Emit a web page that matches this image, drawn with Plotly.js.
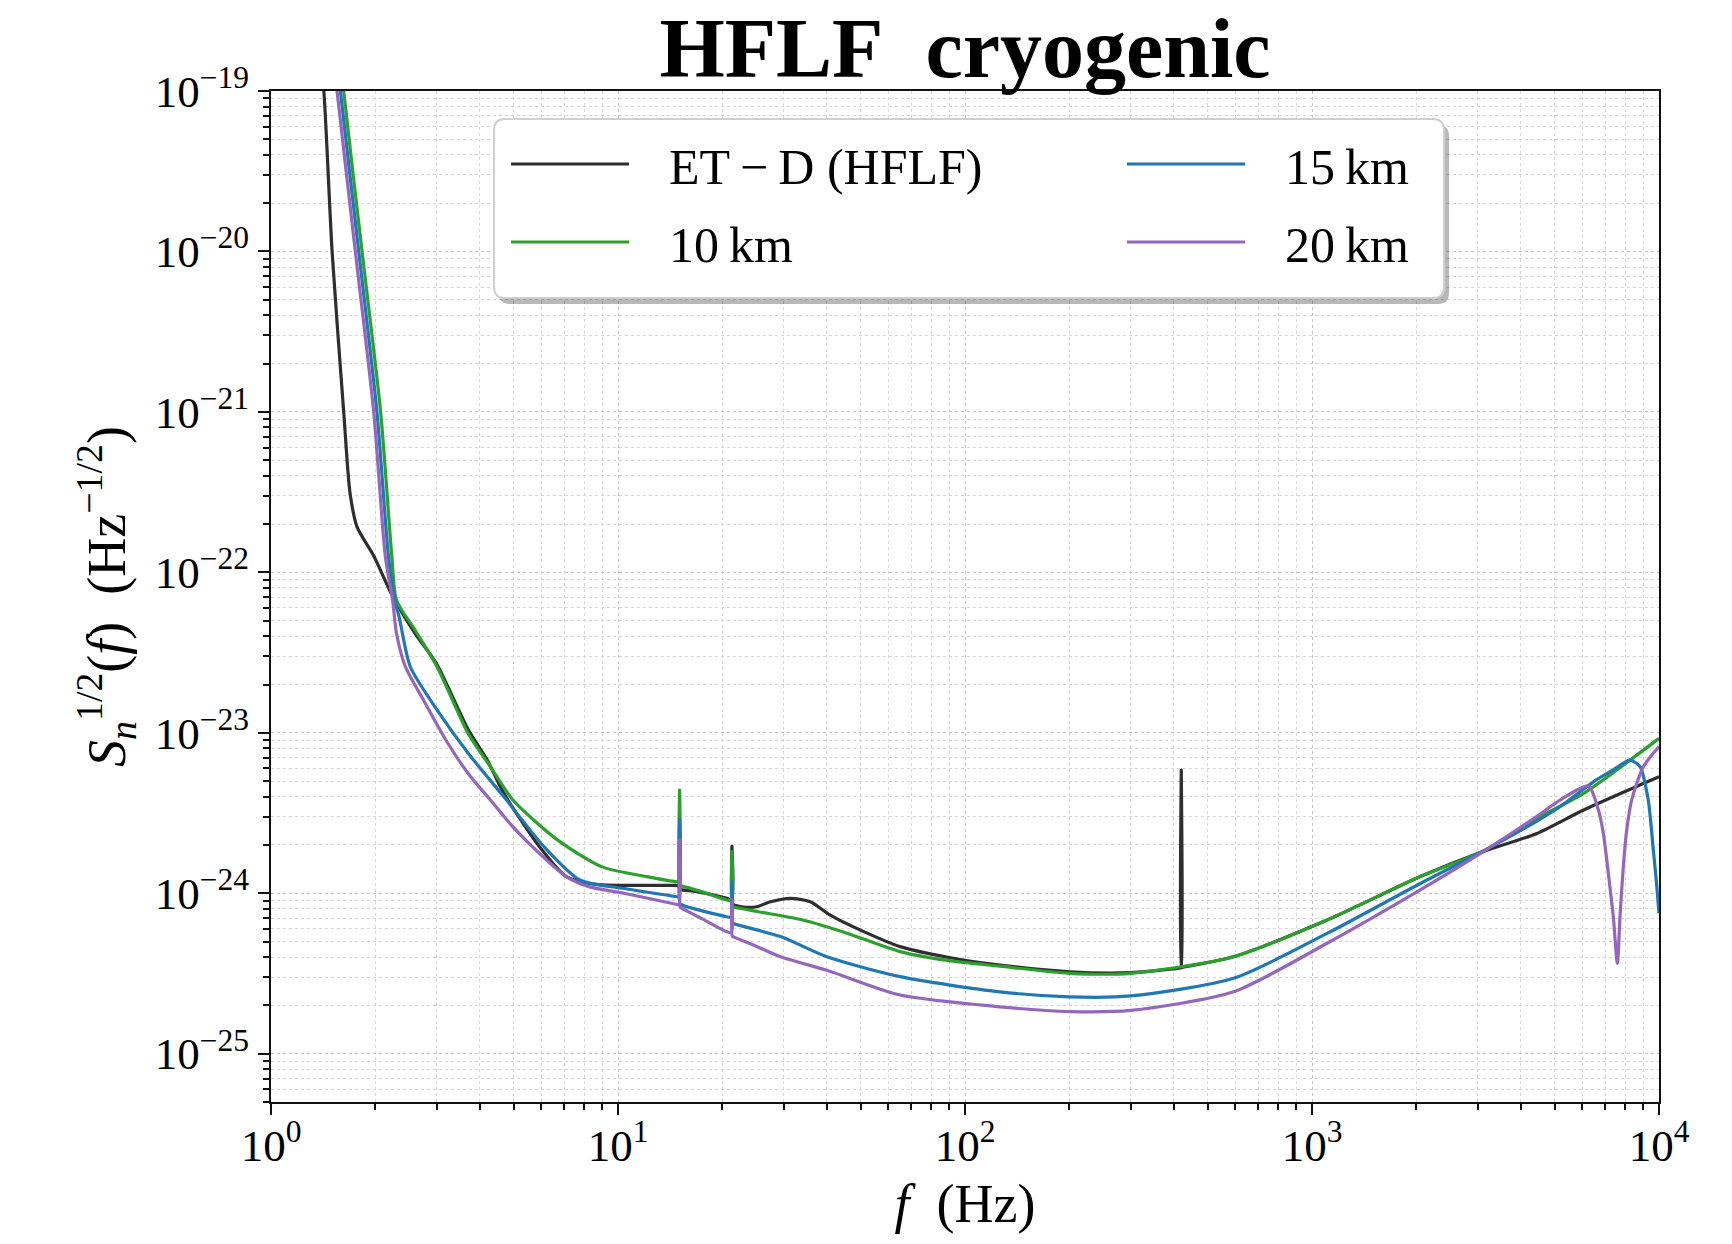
<!DOCTYPE html>
<html>
<head>
<meta charset="utf-8">
<script src="https://cdn.plot.ly/plotly-3.0.1.min.js"></script>
<style>
  html, body { margin: 0; padding: 0; background: #fff; }
  #chart { width: 1732px; height: 1244px; }
</style>
</head>
<body>
<div id="chart"></div>
<script>
// ---------------- DATA ----------------
// Frequencies in Hz, amplitude spectral density S_n^{1/2}(f) in Hz^-1/2

const etdFreq = [1.36, 1.42, 1.50, 1.62, 1.69, 1.77, 1.98, 2.24, 2.60, 3.00, 3.70, 4.20, 4.69, 5.94, 7.10, 8.23, 10.0, 12.1, 14.7, 15.0, 15.05, 15.1, 15.3, 17.0, 20.6, 21.25, 21.3, 21.35, 21.6, 23.0, 25.1, 27.5, 31.4, 35.8, 40.9, 50, 65, 90, 126, 200, 300, 405, 418, 419.6, 420, 420.4, 422, 594, 1105, 2051, 3067, 4450, 6064, 10000];
const etdASD  = [2.5e-19, 1.0e-19, 1.0e-20, 1.0e-21, 3.1e-22, 1.92e-22, 1.26e-22, 7.1e-23, 4.17e-23, 2.69e-23, 1.05e-23, 6.76e-24, 4.19e-24, 1.95e-24, 1.27e-24, 1.15e-24, 1.12e-24, 1.12e-24, 1.12e-24, 1.12e-24, 1.78e-24, 1.06e-24, 1.05e-24, 1.02e-24, 9.3e-25, 9.1e-25, 1.97e-24, 8.55e-25, 8.45e-25, 8.2e-25, 8.24e-25, 8.85e-25, 9.3e-25, 8.85e-25, 7.31e-25, 5.89e-25, 4.65e-25, 3.98e-25, 3.57e-25, 3.24e-25, 3.2e-25, 3.39e-25, 3.42e-25, 3.43e-25, 5.86e-24, 3.44e-25, 3.45e-25, 4.02e-25, 6.81e-25, 1.27e-24, 1.80e-24, 2.36e-24, 3.30e-24, 5.32e-24];

const km10Freq = [1.56, 1.62, 1.83, 2.07, 2.23, 2.30, 2.60, 3.01, 3.70, 4.29, 4.98, 6.69, 9.0, 12.1, 14.8, 15.0, 15.05, 15.1, 15.3, 17.5, 20.6, 21.25, 21.3, 21.35, 21.6, 25.4, 34.1, 45.9, 65, 90, 126, 200, 300, 594, 1105, 2051, 3067, 4450, 6064, 10000];
const km10ASD  = [2.5e-19, 1.0e-19, 1.0e-20, 1.0e-21, 1.25e-22, 6.71e-23, 4.37e-23, 2.58e-23, 9.91e-24, 6.14e-24, 3.81e-24, 2.15e-24, 1.46e-24, 1.27e-24, 1.18e-24, 1.18e-24, 4.40e-24, 1.12e-24, 1.11e-24, 1.02e-24, 9.08e-25, 9.0e-25, 1.82e-24, 8.3e-25, 8.2e-25, 7.67e-25, 6.81e-25, 5.62e-25, 4.33e-25, 3.80e-25, 3.51e-25, 3.17e-25, 3.17e-25, 4.02e-25, 6.81e-25, 1.27e-24, 1.80e-24, 2.93e-24, 4.19e-24, 9.23e-24];

const km15Freq = [1.52, 1.585, 1.79, 2.02, 2.18, 2.27, 2.34, 2.52, 3.01, 3.70, 4.69, 6.12, 7.76, 10.4, 14.8, 15.0, 15.05, 15.1, 15.3, 17.5, 20.6, 21.25, 21.3, 21.35, 21.6, 29.4, 40, 65, 126, 200, 300, 594, 1105, 2051, 3067, 4450, 5186, 6470, 7400, 8250, 8820, 9310, 9630, 9850, 10000];
const km15ASD  = [2.5e-19, 1.0e-19, 1.0e-20, 1.0e-21, 1.26e-22, 6.76e-23, 5.28e-23, 2.58e-23, 1.39e-23, 7.45e-24, 3.99e-24, 1.95e-24, 1.21e-24, 1.07e-24, 9.51e-25, 9.45e-25, 2.86e-24, 8.6e-25, 8.45e-25, 7.76e-25, 7.14e-25, 7.08e-25, 1.18e-24, 6.55e-25, 6.45e-25, 5.37e-25, 4.02e-25, 3.02e-25, 2.43e-25, 2.26e-25, 2.29e-25, 2.95e-25, 5.62e-25, 1.15e-24, 1.80e-24, 2.82e-24, 3.46e-24, 4.95e-24, 5.89e-24, 6.75e-24, 6.14e-24, 3.81e-24, 1.86e-24, 1.12e-24, 7.5e-25];

const km20Freq = [1.48, 1.55, 1.75, 1.977, 2.136, 2.24, 2.30, 2.44, 2.75, 3.19, 3.70, 4.29, 4.98, 5.94, 7.10, 8.23, 10.4, 14.8, 15.0, 15.05, 15.1, 15.3, 17.5, 20.6, 21.25, 21.3, 21.35, 21.6, 25.0, 29.4, 40, 65, 126, 200, 300, 594, 1105, 2051, 3067, 4450, 5186, 6257, 6686, 6913, 7145, 7384, 7586, 7720, 7890, 8072, 8340, 9015, 10000];
const km20ASD  = [2.5e-19, 1.0e-19, 1.0e-20, 1.0e-21, 1.25e-22, 6.76e-23, 4.16e-23, 2.58e-23, 1.60e-23, 9.02e-24, 5.58e-24, 3.81e-24, 2.59e-24, 1.77e-24, 1.27e-24, 1.10e-24, 1.0e-24, 8.51e-25, 8.45e-25, 2.15e-24, 8.2e-25, 8.05e-25, 6.92e-25, 5.75e-25, 5.69e-25, 9.08e-25, 5.4e-25, 5.33e-25, 4.68e-25, 4.02e-25, 3.31e-25, 2.32e-25, 1.96e-25, 1.83e-25, 1.86e-25, 2.43e-25, 4.88e-25, 1.05e-24, 1.78e-24, 3.02e-24, 3.81e-24, 4.66e-24, 3.31e-24, 2.36e-24, 1.33e-24, 7.14e-25, 3.66e-25, 7.14e-25, 1.46e-24, 2.48e-24, 3.81e-24, 6.14e-24, 8.2e-24];

const seriesNames = ['ET\u2009\u2212\u2009D (HFLF)', '10\u2009km', '15\u2009km', '20\u2009km'];

// Tick labels
const xTickVals = [1, 10, 100, 1000, 10000];
const xTickText = ['10<sup>0</sup>', '10<sup>1</sup>', '10<sup>2</sup>', '10<sup>3</sup>', '10<sup>4</sup>'];
const yTickVals = [1e-25, 1e-24, 1e-23, 1e-22, 1e-21, 1e-20, 1e-19];
const yTickText = ['10<sup>\u221225</sup>', '10<sup>\u221224</sup>', '10<sup>\u221223</sup>', '10<sup>\u221222</sup>', '10<sup>\u221221</sup>', '10<sup>\u221220</sup>', '10<sup>\u221219</sup>'];

// ---------------- STYLE ----------------
const FONT = 'Liberation Serif, Times New Roman, serif';
const colors = ['#2e2e2e', '#2ca02c', '#1f77b4', '#9467bd'];
// matplotlib legend, ncol=2: column 1 = ET-D, 10 km ; column 2 = 15 km, 20 km
const legendIds = ['legend', 'legend', 'legend2', 'legend2'];

// minor tick positions (2..9 x each decade)
const xMinor = [];
for (let e = 0; e < 4; e++) for (let m = 2; m <= 9; m++) xMinor.push(m * Math.pow(10, e));
const yMinor = [];
for (let e = -26; e < -19; e++) for (let m = 2; m <= 9; m++) yMinor.push(m * Math.pow(10, e));

const xs = [etdFreq, km10Freq, km15Freq, km20Freq];
const ys = [etdASD, km10ASD, km15ASD, km20ASD];

const traces = xs.map((x, i) => ({
  type: 'scatter',
  mode: 'lines',
  x: x,
  y: ys[i],
  name: '\u2002\u2009' + seriesNames[i],
  legend: legendIds[i],
  legendgroup: 'g' + i,
  line: {color: colors[i], width: 3.2, shape: 'spline', smoothing: 0.7, simplify: false},
  hoverinfo: 'x+y+name'
}));

const axisCommon = {
  type: 'log',
  tickmode: 'array',
  ticks: 'outside',
  ticklen: 11,
  tickwidth: 2,
  tickcolor: '#111',
  showline: true,
  linecolor: '#111',
  linewidth: 2,
  mirror: true,
  showgrid: true,
  gridcolor: '#c4c4c4',
  griddash: 'dot',
  gridwidth: 1.2,
  zeroline: false,
  automargin: false,
  tickfont: {family: FONT, size: 45, color: '#000'}
};

// legend frame (paper coordinates of the plotting area), rounded corners + drop shadow
const PW = 1388, PH = 1011;
const bx0 = 223 / PW, bx1 = 1173 / PW, byTop = 1 - 28 / PH, byBot = 1 - 207 / PH;
const rx = 11 / PW, ry = 11 / PH;
function roundRect(x0, x1, yb, yt) {
  return 'M' + (x0 + rx) + ',' + yt + ' L' + (x1 - rx) + ',' + yt + ' Q' + x1 + ',' + yt + ' ' + x1 + ',' + (yt - ry) +
         ' L' + x1 + ',' + (yb + ry) + ' Q' + x1 + ',' + yb + ' ' + (x1 - rx) + ',' + yb +
         ' L' + (x0 + rx) + ',' + yb + ' Q' + x0 + ',' + yb + ' ' + x0 + ',' + (yb + ry) +
         ' L' + x0 + ',' + (yt - ry) + ' Q' + x0 + ',' + yt + ' ' + (x0 + rx) + ',' + yt + ' Z';
}
const sdx = 5 / PW, sdy = 6 / PH;

const legendCommon = {
  orientation: 'v',
  xanchor: 'left',
  yanchor: 'top',
  bgcolor: 'rgba(0,0,0,0)',
  borderwidth: 0,
  font: {family: FONT, size: 50, color: '#000'},
  itemwidth: 118,
  tracegroupgap: 10
};

const layout = {
  width: 1732,
  height: 1244,
  margin: {l: 271, r: 73, t: 91, b: 142, pad: 0},
  paper_bgcolor: '#ffffff',
  plot_bgcolor: '#ffffff',
  font: {family: FONT, color: '#000'},
  showlegend: true,
  title: {
    text: '<b>HFLF\u2002cryogenic</b>',
    font: {family: FONT, size: 84, color: '#000'},
    xref: 'paper', x: 0.5, xanchor: 'center',
    yref: 'container', y: 0.962, yanchor: 'middle'
  },
  xaxis: Object.assign({}, axisCommon, {
    range: [0, 4],
    tickvals: xTickVals,
    ticktext: xTickText,
    ticklabelstandoff: -8,
    title: {text: '<i>f</i>\u2002(Hz)', font: {family: FONT, size: 54, color: '#000'}, standoff: 14},
    minor: {tickmode: 'array', tickvals: xMinor, ticks: 'outside', ticklen: 6, tickwidth: 1.5, tickcolor: '#111',
            showgrid: true, gridcolor: '#d6d6d6', griddash: 'dot', gridwidth: 1}
  }),
  yaxis: Object.assign({}, axisCommon, {
    range: [Math.log10(5e-26), -19],
    tickvals: yTickVals,
    ticktext: yTickText,
    title: {text: '<i>S</i><sub><i>n</i></sub><sup>1/2</sup>(<i>f</i>)\u2002(Hz<sup>\u22121/2</sup>)', font: {family: FONT, size: 54, color: '#000'}, standoff: 12},
    minor: {tickmode: 'array', tickvals: yMinor, ticks: 'outside', ticklen: 6, tickwidth: 1.5, tickcolor: '#111',
            showgrid: true, gridcolor: '#d6d6d6', griddash: 'dot', gridwidth: 1}
  }),
  legend: Object.assign({}, legendCommon, {x: 235 / PW, y: 1 - 34 / PH}),
  legend2: Object.assign({}, legendCommon, {x: 851 / PW, y: 1 - 34 / PH}),
  shapes: [
    {type: 'path', xref: 'paper', yref: 'paper', layer: 'above',
     path: roundRect(bx0 + sdx, bx1 + sdx, byBot - sdy, byTop - sdy),
     fillcolor: 'rgba(0,0,0,0.28)', line: {width: 0}},
    {type: 'path', xref: 'paper', yref: 'paper', layer: 'above',
     path: roundRect(bx0, bx1, byBot, byTop),
     fillcolor: '#ffffff', line: {color: '#cfcfcf', width: 2}}
  ]
};

Plotly.newPlot('chart', traces, layout, {displayModeBar: false});
</script>
</body>
</html>
